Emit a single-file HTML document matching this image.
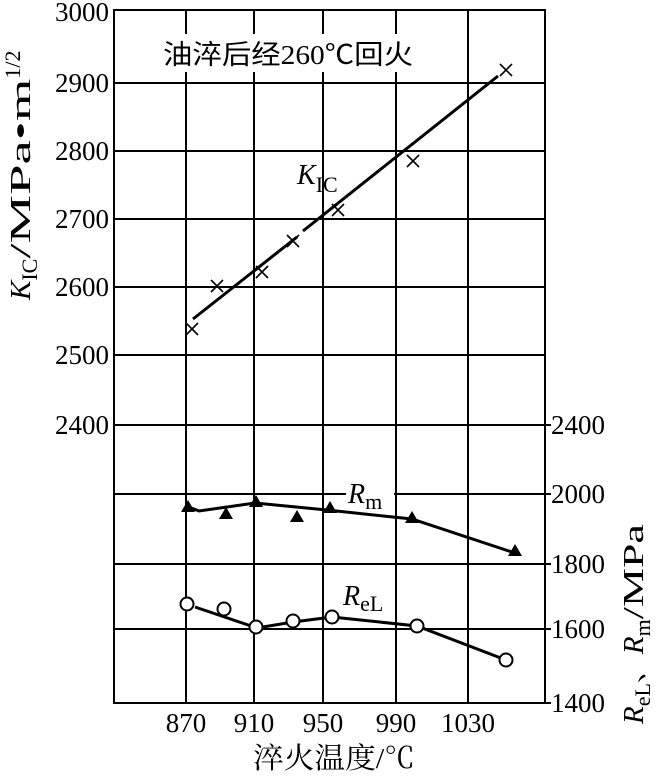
<!DOCTYPE html>
<html><head><meta charset="utf-8"><style>html,body{margin:0;padding:0;background:#fff}svg{display:block}
text{font-family:"Liberation Serif","Noto Serif CJK SC",serif}
.cjk{font-family:"Liberation Serif","Noto Sans CJK SC",sans-serif}</style></head>
<body>
<svg width="657" height="776" viewBox="0 0 657 776" xmlns="http://www.w3.org/2000/svg">
<g stroke="#000" stroke-width="2" fill="none">
<rect x="114" y="10" width="431" height="693"/>
<line x1="114" y1="83" x2="545" y2="83"/>
<line x1="114" y1="151" x2="545" y2="151"/>
<line x1="114" y1="219" x2="545" y2="219"/>
<line x1="114" y1="287" x2="545" y2="287"/>
<line x1="114" y1="355" x2="545" y2="355"/>
<line x1="114" y1="425" x2="545" y2="425"/>
<line x1="114" y1="494" x2="545" y2="494"/>
<line x1="114" y1="564" x2="545" y2="564"/>
<line x1="114" y1="629" x2="545" y2="629"/>
<line x1="186" y1="10" x2="186" y2="703"/>
<line x1="254" y1="10" x2="254" y2="703"/>
<line x1="323" y1="10" x2="323" y2="703"/>
<line x1="396" y1="10" x2="396" y2="703"/>
<line x1="468" y1="10" x2="468" y2="703"/>
</g>
<rect x="160" y="34" width="260" height="38" fill="#fff"/>
<text x="163" y="64" font-size="27" class="cjk" textLength="250" lengthAdjust="spacingAndGlyphs">油淬后经260℃回火</text>
<g stroke="#000" stroke-width="3" fill="none">
<line x1="193" y1="319" x2="297" y2="237"/>
<line x1="303" y1="231" x2="498" y2="76"/>
<polyline points="186,506 199,511 255,503 327,510 412,519 515,553"/>
<polyline points="195,607 257,628 293,622 332,617 417,626 506,660"/>
</g>
<g stroke="#000" stroke-width="1.6">
<path d="M186,323l12,12M198,323l-12,12"/>
<path d="M211,280l12,12M223,280l-12,12"/>
<path d="M256,266l12,12M268,266l-12,12"/>
<path d="M287,235l12,12M299,235l-12,12"/>
<path d="M332,204l12,12M344,204l-12,12"/>
<path d="M407,155l12,12M419,155l-12,12"/>
<path d="M500,64l12,12M512,64l-12,12"/>
</g>
<g fill="#000">
<path d="M188,500l7,12h-14z"/>
<path d="M226,507l7,12h-14z"/>
<path d="M256,495l7,12h-14z"/>
<path d="M297,510l7,12h-14z"/>
<path d="M330,501l7,12h-14z"/>
<path d="M412,511l7,12h-14z"/>
<path d="M515,544l7,12h-14z"/>
</g>
<g fill="#fff" stroke="#000" stroke-width="2">
<circle cx="187" cy="604" r="6.5"/>
<circle cx="224" cy="609" r="6.5"/>
<circle cx="256" cy="627" r="6.5"/>
<circle cx="293" cy="621" r="6.5"/>
<circle cx="332" cy="617" r="6.5"/>
<circle cx="417" cy="626" r="6.5"/>
<circle cx="506" cy="660" r="6.5"/>
</g>
<rect x="346" y="476" width="48" height="32" fill="#fff"/>
<text x="348" y="503" font-size="28"><tspan font-style="italic">R</tspan><tspan font-size="22" dy="6">m</tspan></text>
<rect x="342" y="578" width="52" height="34" fill="#fff"/>
<text x="343" y="605" font-size="28"><tspan font-style="italic">R</tspan><tspan font-size="22" dy="6">eL</tspan></text>
<text x="297" y="184" font-size="28"><tspan font-style="italic">K</tspan><tspan font-size="22" dy="8">IC</tspan></text>
<g font-size="27" text-anchor="end">
<text x="109" y="21">3000</text>
<text x="109" y="92">2900</text>
<text x="109" y="160">2800</text>
<text x="109" y="228">2700</text>
<text x="109" y="296">2600</text>
<text x="109" y="364">2500</text>
<text x="109" y="434">2400</text>
</g>
<g font-size="27">
<text x="551" y="434">2400</text>
<text x="551" y="503">2000</text>
<text x="551" y="573">1800</text>
<text x="551" y="638">1600</text>
<text x="551" y="712">1400</text>
</g>
<g stroke="#000" stroke-width="2">
<line x1="545" y1="425" x2="551" y2="425"/><line x1="545" y1="494" x2="551" y2="494"/><line x1="545" y1="564" x2="551" y2="564"/><line x1="545" y1="629" x2="551" y2="629"/><line x1="545" y1="703" x2="551" y2="703"/>
</g>
<g font-size="27" text-anchor="middle">
<text x="186" y="732">870</text>
<text x="254" y="732">910</text>
<text x="323" y="732">950</text>
<text x="396" y="732">990</text>
<text x="468" y="732">1030</text>
</g>
<text x="253" y="768" font-size="29" textLength="162" lengthAdjust="spacingAndGlyphs">淬火温度/℃</text>
<text transform="translate(30,300) rotate(-90)" font-size="29"><tspan font-style="italic">K</tspan><tspan font-size="22" dy="7">IC</tspan><tspan dy="-7" textLength="180" lengthAdjust="spacingAndGlyphs">/MPa•m</tspan><tspan font-size="22" dy="-10">1/2</tspan></text>
<text transform="translate(643,724) rotate(-90)" font-size="29"><tspan font-style="italic">R</tspan><tspan font-size="22" dy="7">eL</tspan><tspan dy="-7">、</tspan><tspan font-style="italic">R</tspan><tspan font-size="22" dy="7">m</tspan><tspan dy="-7" textLength="95" lengthAdjust="spacingAndGlyphs">/MPa</tspan></text>
</svg>
</body></html>
